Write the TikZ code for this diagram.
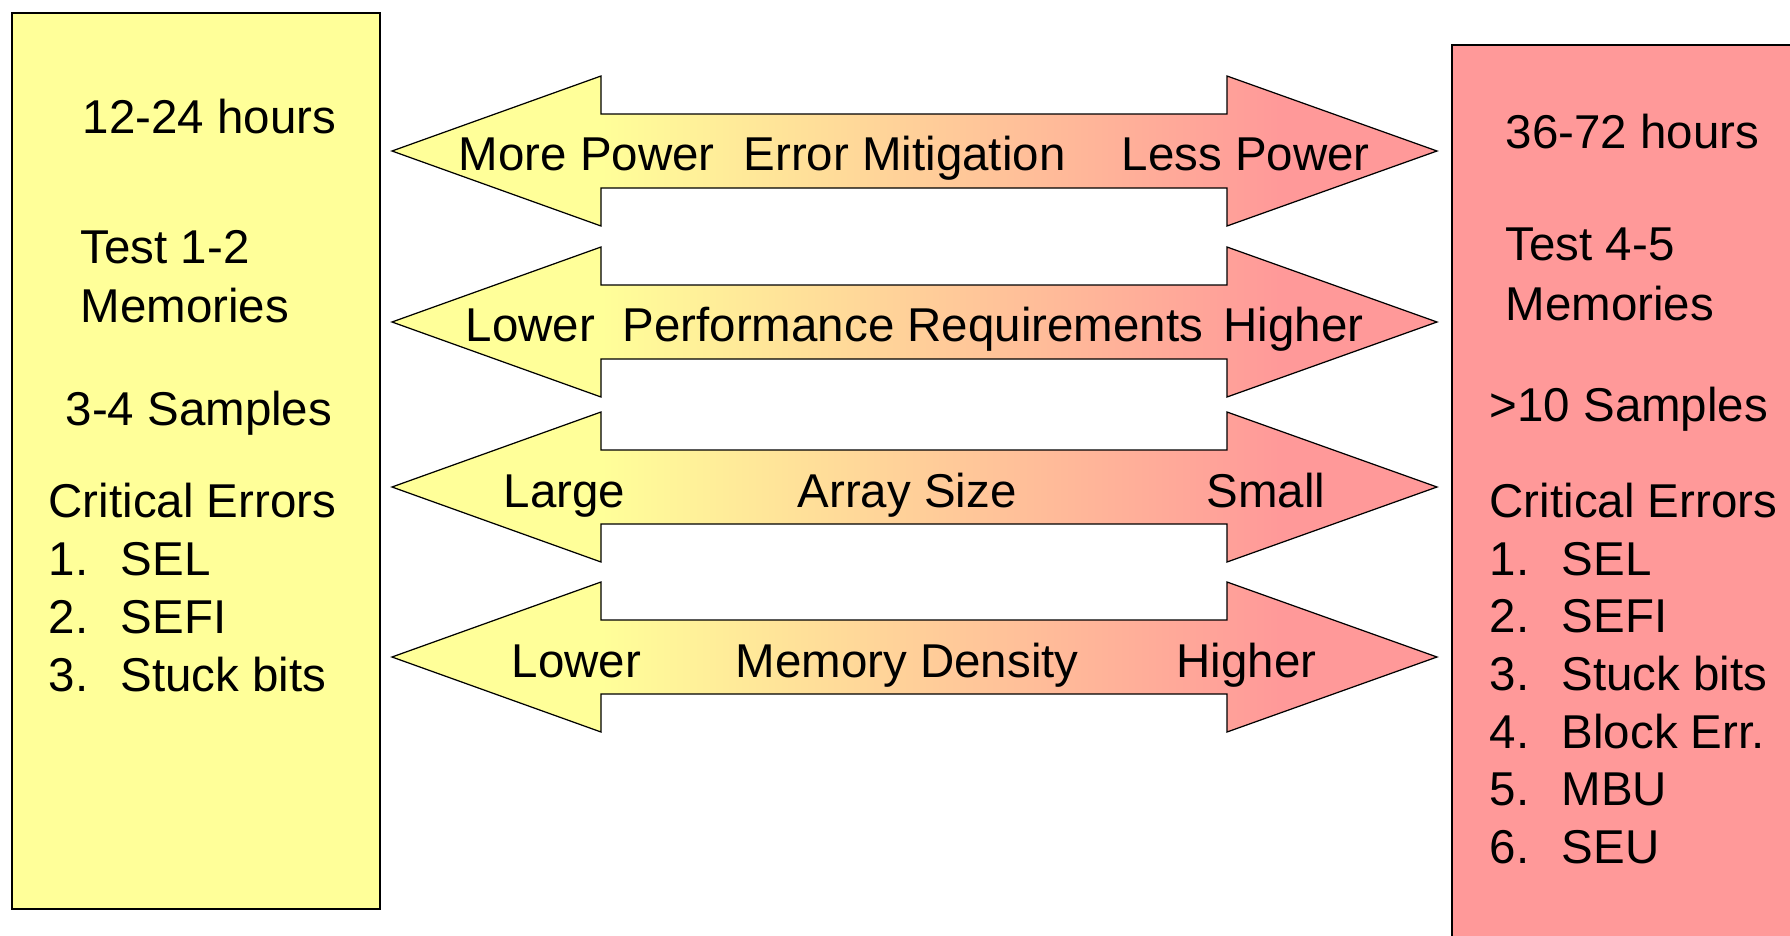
\documentclass[tikz,border=0pt]{standalone}
\usepackage{fontspec}
\setmainfont{Liberation Sans}
\definecolor{ylw}{HTML}{FFFF99}
\definecolor{pnk}{HTML}{FF9999}
\definecolor{peach}{HTML}{FFCC99}
\pgfdeclarehorizontalshading{arrowshade}{100bp}{color(0bp)=(ylw); color(35bp)=(ylw); color(51bp)=(peach); color(67.5bp)=(pnk); color(100bp)=(pnk)}
\tikzset{
  box/.style={line width=0.6pt},
  dblarrow/.style={draw=black, line width=0.35pt, shading=arrowshade},
  txt/.style={anchor=base west, inner sep=0pt, font=\fontsize{13.5pt}{16pt}\selectfont},
}
\begin{document}
\begin{tikzpicture}[x=0.01cm, y=-0.01cm]
\useasboundingbox (0,0) rectangle (1790,936);
% side boxes
\draw[box, fill=ylw] (12,13) rectangle (380,909);
\draw[box, fill=pnk] (1452,45) rectangle (1800,946);
% arrows: tip y-center c, head half-height 75, shaft half-height 38
\foreach \c in {151,322,487,657}{
  \draw[dblarrow] (392,\c) -- (601,\c-75) -- (601,\c-37) -- (1227,\c-37) -- (1227,\c-75)
     -- (1437,\c) -- (1227,\c+75) -- (1227,\c+37) -- (601,\c+37) -- (601,\c+75) -- cycle;
}
% left box texts
\node[txt] (l1) at (82,133) {12-24 hours};
\node[txt] (l2) at (80,263) {Test 1-2};
\node[txt] (l3) at (80,322) {Memories};
\node[txt] (l4) at (65,425) {3-4 Samples};
\node[txt] (l5) at (48,517) {Critical Errors};
\node[txt] (l6n) at (48,575) {1.};
\node[txt] (l6) at (120,575) {SEL};
\node[txt] (l7n) at (48,633) {2.};
\node[txt] (l7) at (120,633) {SEFI};
\node[txt] (l8n) at (48,691) {3.};
\node[txt] (l8) at (120,691) {Stuck bits};
% right box texts
\node[txt] (r1) at (1505,148) {36-72 hours};
\node[txt] (r2) at (1505,260) {Test 4-5};
\node[txt] (r3) at (1505,320) {Memories};
\node[txt] (r4) at (1489,421) {>10 Samples};
\node[txt] (r5) at (1489,517) {Critical Errors};
\node[txt] (r6n) at (1489,575) {1.};
\node[txt] (r6) at (1561,575) {SEL};
\node[txt] (r7n) at (1489,632) {2.};
\node[txt] (r7) at (1561,632) {SEFI};
\node[txt] (r8n) at (1489,690) {3.};
\node[txt] (r8) at (1561,690) {Stuck bits};
\node[txt] (r9n) at (1489,748) {4.};
\node[txt] (r9) at (1561,748) {Block Err.};
\node[txt] (r10n) at (1489,805) {5.};
\node[txt] (r10) at (1561,805) {MBU};
\node[txt] (r11n) at (1489,863) {6.};
\node[txt] (r11) at (1561,863) {SEU};
% arrow texts
\node[txt] (a1l) at (458,170) {More Power};
\node[txt] (a1m) at (743,170) {Error Mitigation};
\node[txt] (a1r) at (1121,170) {Less Power};
\node[txt] (a2l) at (465,341) {Lower};
\node[txt] (a2m) at (622,341) {Performance Requirements};
\node[txt] (a2r) at (1223,341) {Higher};
\node[txt] (a3l) at (503,507) {Large};
\node[txt] (a3m) at (797,507) {Array Size};
\node[txt] (a3r) at (1206,507) {Small};
\node[txt] (a4l) at (511,677) {Lower};
\node[txt] (a4m) at (735,677) {Memory Density};
\node[txt] (a4r) at (1176,677) {Higher};
\end{tikzpicture}
\end{document}
